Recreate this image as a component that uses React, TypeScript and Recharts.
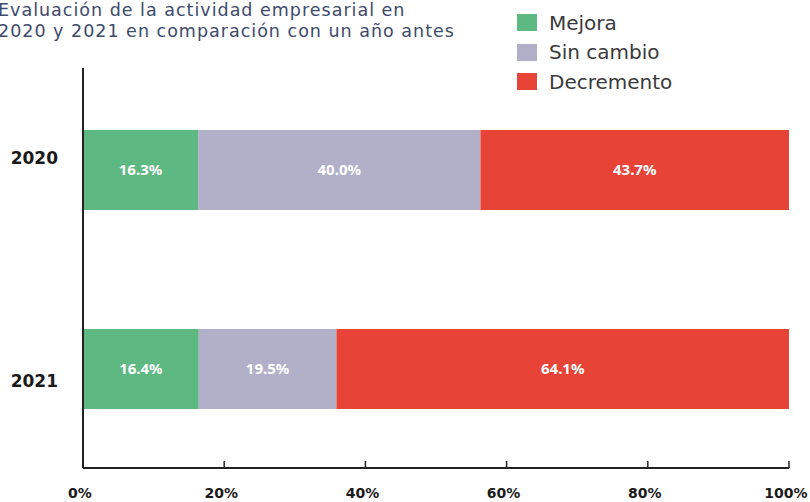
import React from 'react';
import { BarChart, Bar, XAxis, YAxis, LabelList } from 'recharts';

const years = ['2020', '2021'];
const mejora = [16.3, 16.4];
const sinCambio = [40.0, 19.5];
const decremento = [43.7, 64.1];
const xTicks = [0, 20, 40, 60, 80, 100];
const seriesNames = ['Mejora', 'Sin cambio', 'Decremento'];
const seriesKeys = ['mejora', 'sinCambio', 'decremento'];
const colors = ['#5db882', '#b1b0c8', '#e74337'];
const titleLines = ['Evaluación de la actividad empresarial en', '2020 y 2021 en comparación con un año antes'];

const data = years.map((y, i) => ({ year: y, mejora: mejora[i], sinCambio: sinCambio[i], decremento: decremento[i] }));

const FONT = '"DejaVu Sans", sans-serif';
const LABEL_FONT = '"Noto Sans", sans-serif';

const XTick = (props: any) => {
  const { x, y, payload } = props;
  return (
    <g>
      <line x1={x} x2={x} y1={y} y2={y - 7} stroke="#222" strokeWidth={1.5} />
      <text x={x - 3} y={y + 30} textAnchor="middle" fontFamily={FONT} fontSize={14} fontWeight={600} fill="#1a1a1a">
        {payload.value}%
      </text>
    </g>
  );
};

const YTick = (props: any) => {
  const { x, y, payload, index } = props;
  const dy = index === 0 ? -11.5 : 12.5;
  return (
    <text x={x - 25} y={y + dy} dy={6} textAnchor="end" fontFamily={FONT} fontSize={17} fontWeight={700} fill="#1a1a1a">
      {payload.value}
    </text>
  );
};

const fmt = (v: any) => `${Number(v).toFixed(1)}%`;

export default function App() {
  return (
    <div style={{ position: 'absolute', left: 0, top: 0, width: 810, height: 502, overflow: 'hidden', background: '#fff' }}>
      <div style={{ position: 'absolute', left: -2, top: 0, fontFamily: FONT, fontSize: 17.5, lineHeight: '21px', letterSpacing: 1.0, color: '#3d4a6b', zIndex: 2, whiteSpace: 'nowrap' }}>
        {titleLines.map((t) => (
          <div key={t}>{t}</div>
        ))}
      </div>
      <div style={{ position: 'absolute', left: 517, top: 8, fontFamily: FONT, zIndex: 2 }}>
        {seriesNames.map((n, i) => (
          <div key={n} style={{ display: 'flex', alignItems: 'center', height: 29.5 }}>
            <div style={{ width: 20, height: 17, background: colors[i], marginRight: 12 }} />
            <span style={{ fontSize: 20, color: '#3a3a3a', fontWeight: 400 }}>{n}</span>
          </div>
        ))}
      </div>
      <BarChart
        width={810}
        height={502}
        data={data}
        layout="vertical"
        margin={{ top: 68, right: 21, bottom: 4, left: 0 }}
      >
        <XAxis
          type="number"
          domain={[0, 100]}
          ticks={xTicks}
          tickSize={0}
          tickMargin={0}
          tick={<XTick />}
          axisLine={{ stroke: '#222', strokeWidth: 2 }}
          height={30}
          interval={0}
        />
        <YAxis
          type="category"
          dataKey="year"
          width={83}
          padding={{ top: 2, bottom: 0 }}
          tickLine={false}
          tickSize={0}
          tickMargin={0}
          tick={<YTick />}
          axisLine={{ stroke: '#222', strokeWidth: 2 }}
        />
        {seriesKeys.map((k, i) => (
          <Bar key={k} dataKey={k} name={seriesNames[i]} stackId="a" fill={colors[i]} barSize={80} isAnimationActive={false}>
            <LabelList dataKey={k} position="center" formatter={fmt} fill="#fff" fontFamily={LABEL_FONT} fontSize={15} fontWeight={700} />
          </Bar>
        ))}
      </BarChart>
    </div>
  );
}
